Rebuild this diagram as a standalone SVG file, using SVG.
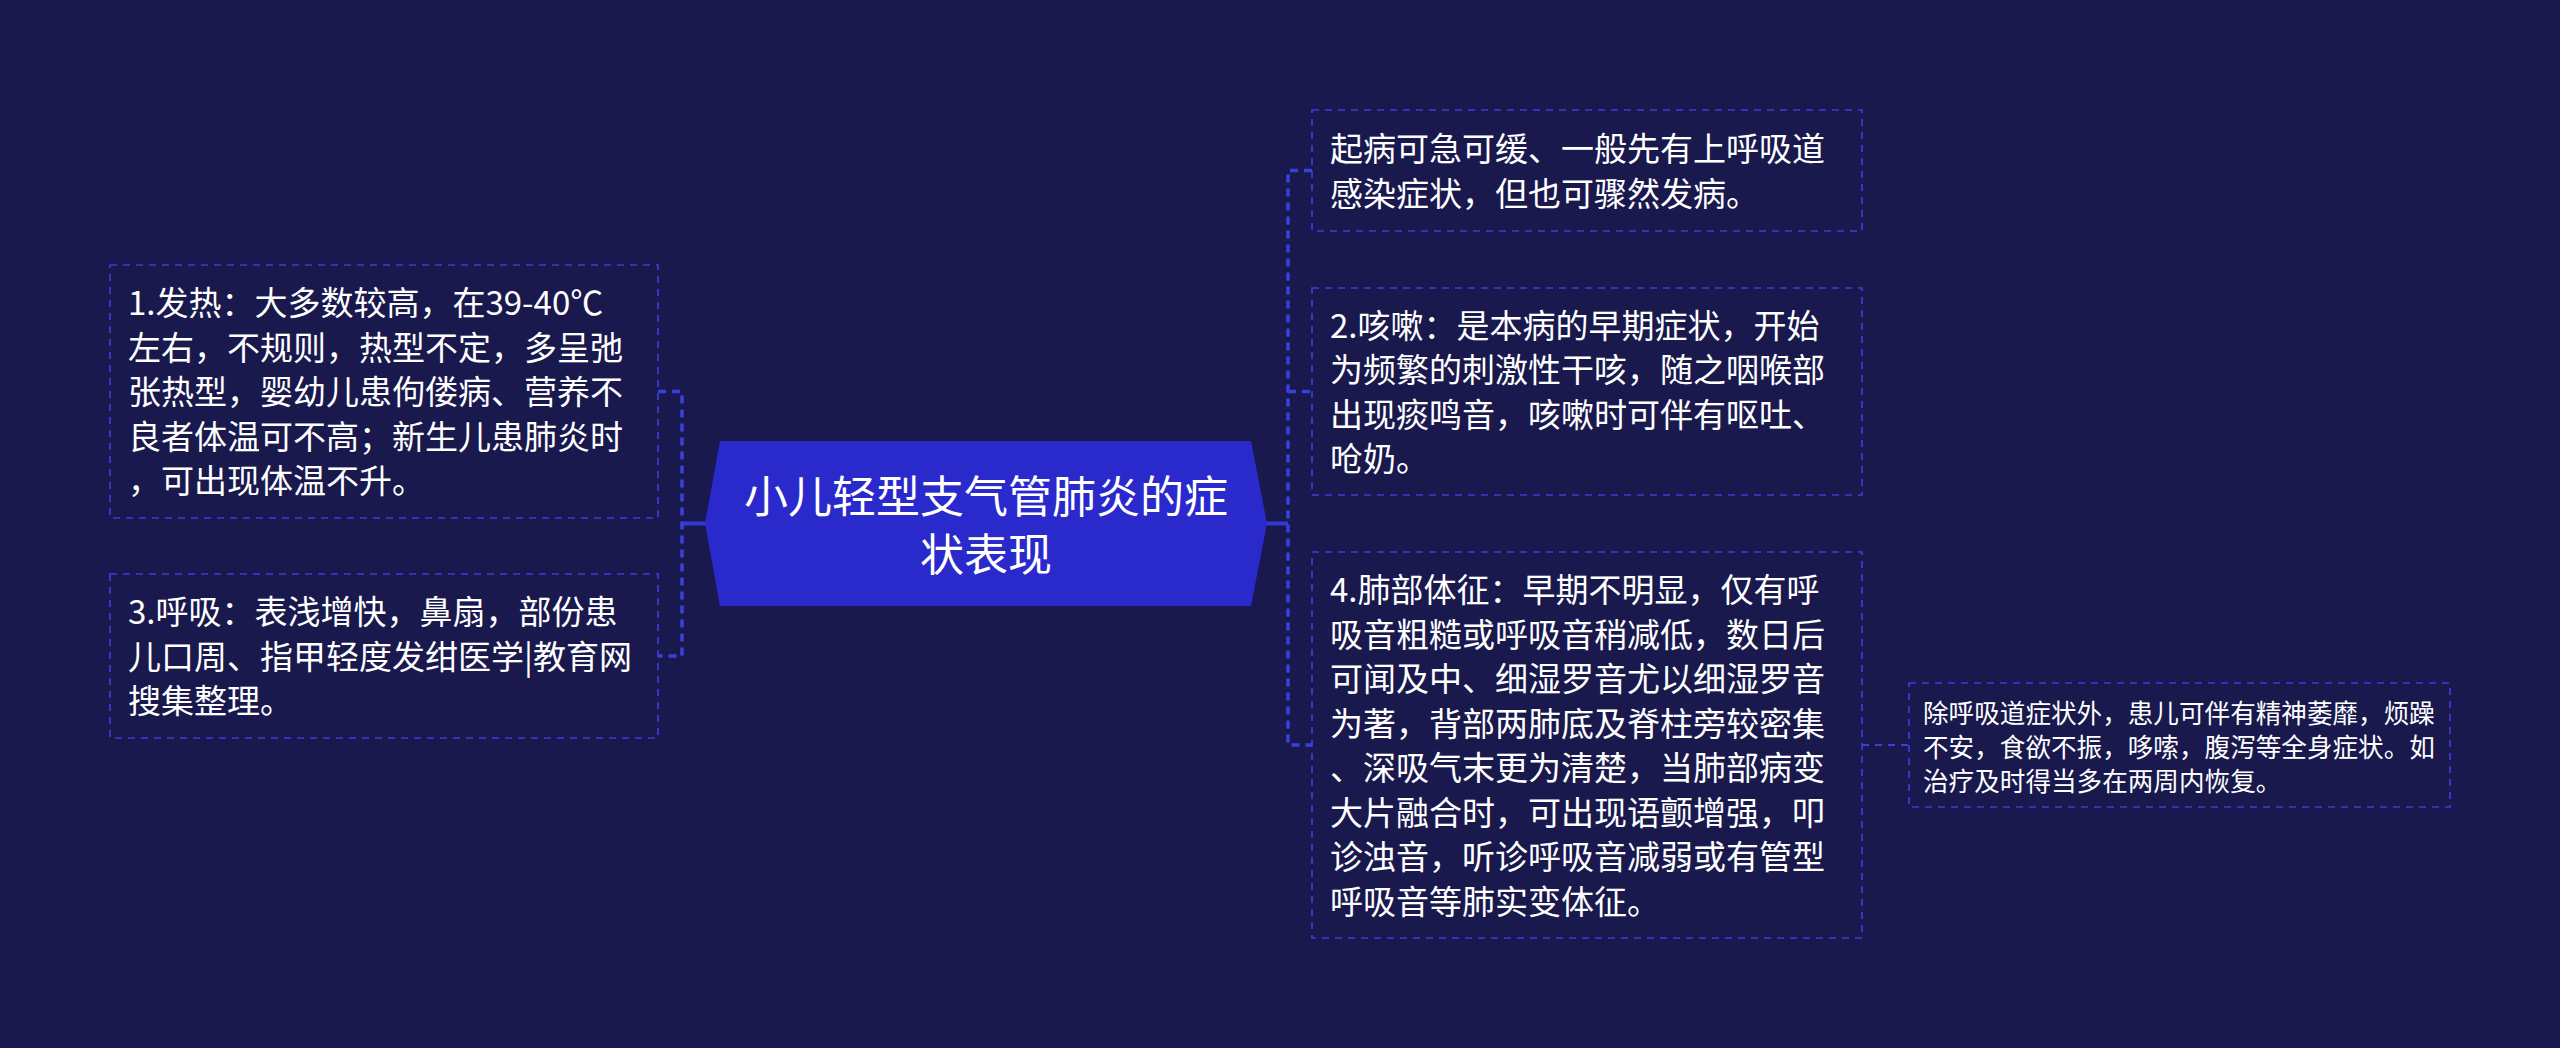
<svg xmlns="http://www.w3.org/2000/svg" width="2560" height="1048" viewBox="0 0 2560 1048">
<style>
.bg{fill:#19194e}
.box{fill:none;stroke:#393fd8;stroke-width:1.7;stroke-dasharray:7 6}
.t{font-family:"Noto Sans CJK SC","Noto Sans",sans-serif;fill:#ffffff;font-size:33px}
.ts{font-family:"Noto Sans CJK SC","Noto Sans",sans-serif;fill:#ffffff;font-size:25.6px}
.tc{font-family:"Noto Sans CJK SC","Noto Sans",sans-serif;fill:#ffffff;font-size:44px;text-anchor:middle}
.conn{fill:none;stroke:#3840de;stroke-width:3.5;stroke-dasharray:8 6}
.connt{fill:none;stroke:#393fd8;stroke-width:1.8;stroke-dasharray:7 6}
.solid{fill:none;stroke:#3339d4;stroke-width:4}
</style>
<rect class="bg" x="0" y="0" width="2560" height="1048"/>
<g id="connectors">
<line class="solid" x1="682" y1="523.5" x2="706" y2="523.5"/>
<path class="conn" d="M658 391.5 H682 V656 H658"/>
<line class="solid" x1="1266" y1="523.5" x2="1288" y2="523.5"/>
<path class="conn" d="M1312 170.5 H1288 V745 H1312"/>
<line class="conn" x1="1288" y1="391.5" x2="1312" y2="391.5"/>
<line class="connt" x1="1862" y1="745" x2="1909" y2="745"/>
</g>
<g id="center">
<polygon points="705,523.5 720,441 1251,441 1267,523.5 1251,606 720,606" fill="#2a2acc"/>
<text class="tc" x="986" y="512.5">小儿轻型支气管肺炎的症</text>
<text class="tc" x="986" y="570.5">状表现</text>
</g>
<g id="node-fever">
<rect class="box" x="110" y="265" width="548" height="253"/>
<text class="t" x="128" y="315">1.发热：大多数较高，在39-40℃</text>
<text class="t" x="128" y="359.5">左右，不规则，热型不定，多呈弛</text>
<text class="t" x="128" y="404">张热型，婴幼儿患佝偻病、营养不</text>
<text class="t" x="128" y="448.5">良者体温可不高；新生儿患肺炎时</text>
<text class="t" x="128" y="493">，可出现体温不升。</text>
</g>
<g id="node-breath">
<rect class="box" x="110" y="574" width="548" height="164"/>
<text class="t" x="128" y="624">3.呼吸：表浅增快，鼻扇，部份患</text>
<text class="t" x="128" y="668.5">儿口周、指甲轻度发绀医学|教育网</text>
<text class="t" x="128" y="713">搜集整理。</text>
</g>
<g id="node-onset">
<rect class="box" x="1312" y="110" width="550" height="121"/>
<text class="t" x="1330" y="161">起病可急可缓、一般先有上呼吸道</text>
<text class="t" x="1330" y="205.5">感染症状，但也可骤然发病。</text>
</g>
<g id="node-cough">
<rect class="box" x="1312" y="288" width="550" height="207"/>
<text class="t" x="1330" y="337.5">2.咳嗽：是本病的早期症状，开始</text>
<text class="t" x="1330" y="382">为频繁的刺激性干咳，随之咽喉部</text>
<text class="t" x="1330" y="426.5">出现痰鸣音，咳嗽时可伴有呕吐、</text>
<text class="t" x="1330" y="471">呛奶。</text>
</g>
<g id="node-lung">
<rect class="box" x="1312" y="552" width="550" height="386"/>
<text class="t" x="1330" y="602">4.肺部体征：早期不明显，仅有呼</text>
<text class="t" x="1330" y="646.5">吸音粗糙或呼吸音稍减低，数日后</text>
<text class="t" x="1330" y="691">可闻及中、细湿罗音尤以细湿罗音</text>
<text class="t" x="1330" y="735.5">为著，背部两肺底及脊柱旁较密集</text>
<text class="t" x="1330" y="780">、深吸气末更为清楚，当肺部病变</text>
<text class="t" x="1330" y="824.5">大片融合时，可出现语颤增强，叩</text>
<text class="t" x="1330" y="869">诊浊音，听诊呼吸音减弱或有管型</text>
<text class="t" x="1330" y="913.5">呼吸音等肺实变体征。</text>
</g>
<g id="node-systemic">
<rect class="box" x="1909" y="683" width="541" height="124"/>
<text class="ts" x="1923" y="723">除呼吸道症状外，患儿可伴有精神萎靡，烦躁</text>
<text class="ts" x="1923" y="757">不安，食欲不振，哆嗦，腹泻等全身症状。如</text>
<text class="ts" x="1923" y="791">治疗及时得当多在两周内恢复。</text>
</g>
</svg>
